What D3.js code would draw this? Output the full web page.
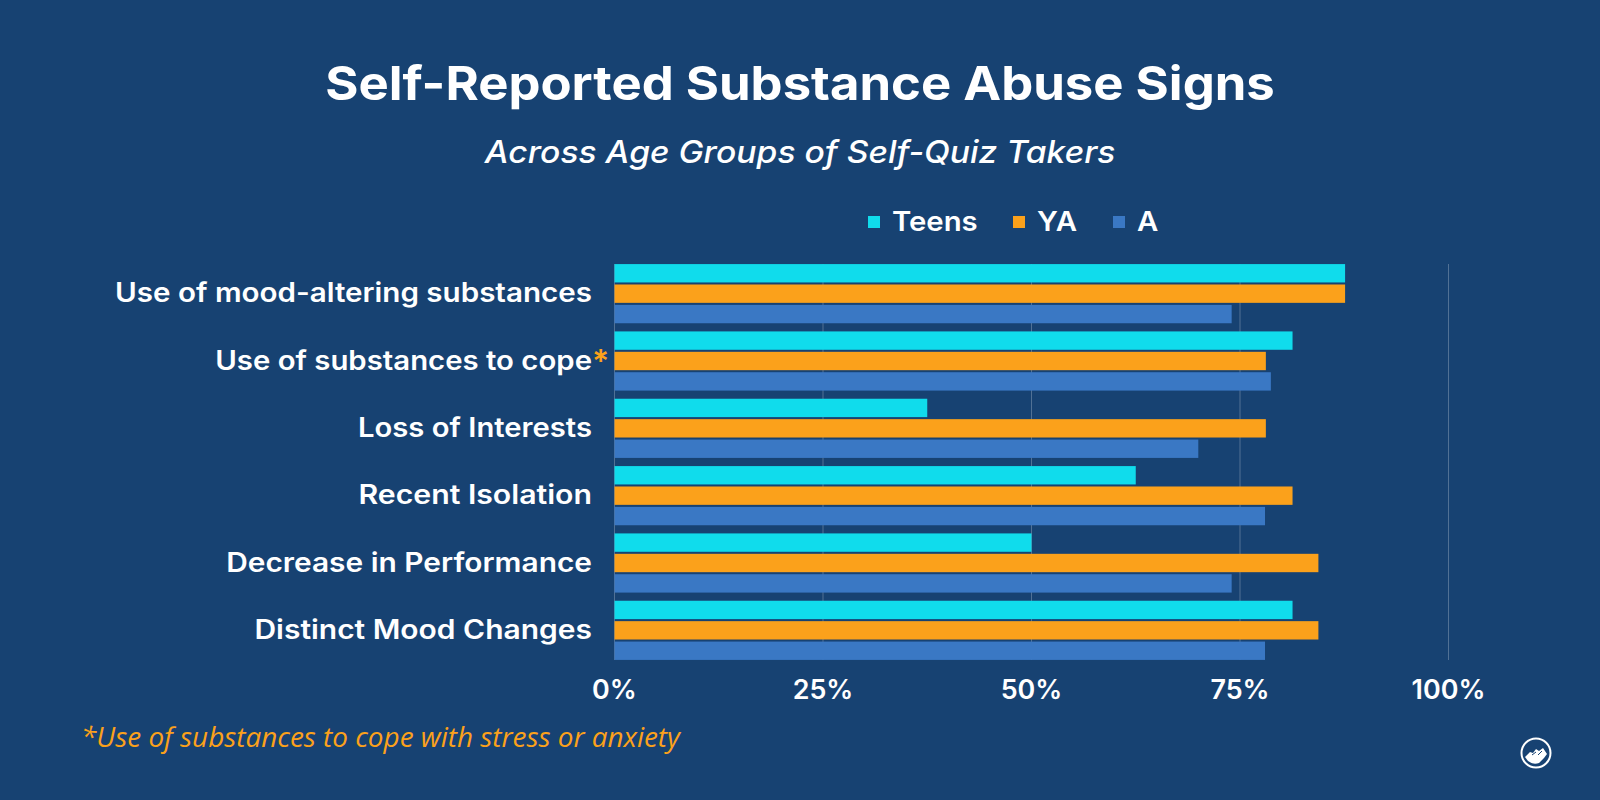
<!DOCTYPE html>
<html><head><meta charset="utf-8">
<script src="https://cdn.jsdelivr.net/npm/d3@7/dist/d3.min.js"></script>
<style>html,body{margin:0;padding:0;background:#174272}svg{display:block}</style>
</head><body><svg id="c" width="1600" height="800"></svg>
<script>
const categories=["Use of mood-altering substances","Use of substances to cope","Loss of Interests","Recent Isolation","Decrease in Performance","Distinct Mood Changes"];
const seriesNames=["Teens","YA","A"];
const teens=[87.6,81.3,37.5,62.5,50,81.3];
const ya=[87.6,78.1,78.1,81.3,84.4,84.4];
const adults=[74,78.7,70,78,74,78];
const tickValues=[0,25,50,75,100];
const colors=["#10dcec","#fba11b","#3a78c4"];
const title="Self-Reported Substance Abuse Signs";
const subtitle="Across Age Groups of Self-Quiz Takers";
const footnote="*Use of substances to cope with stress or anxiety";
const labelWidthFactors=[1.011,1,1,1.036,1.02,1.025];

const font="Inter, 'Open Sans', sans-serif";
const svg=d3.select("#c");
function stretch(sel,f){
  sel.each(function(d,i){
    const k=typeof f==="function"?f(d,i):f;
    this.setAttribute("textLength",this.getComputedTextLength()*k);
    this.setAttribute("lengthAdjust","spacingAndGlyphs");
  });
  return sel;
}
svg.append("rect").attr("width",1600).attr("height",800).attr("fill","#174272");
const x=d3.scaleLinear().domain([0,100]).range([614.5,1448.5]);
const y=d3.scaleBand().domain(categories).range([260,664]).paddingInner(0).paddingOuter(0);
const sub=d3.scaleBand().domain(seriesNames).range([0,y.bandwidth()]).paddingInner(0.1).paddingOuter(0.2);

stretch(svg.append("text").attr("x",800).attr("y",100).attr("text-anchor","middle").attr("fill","#fff")
 .attr("font-family",font).attr("font-weight",700).attr("font-size",47).text(title),1.081);
stretch(svg.append("text").attr("x",800).attr("y",162.5).attr("text-anchor","middle").attr("fill","#fff")
 .attr("font-family",font).attr("font-style","italic").attr("font-weight",500).attr("font-size",31).text(subtitle),1.085);

svg.append("g").selectAll("line").data(tickValues).join("line")
 .attr("x1",d=>x(d)).attr("x2",d=>x(d)).attr("y1",264).attr("y2",660)
 .attr("stroke","#fff").attr("stroke-opacity",0.25).attr("stroke-width",1);

const all=[teens,ya,adults];
seriesNames.forEach((s,i)=>{
  svg.append("g").selectAll("rect").data(all[i]).join("rect")
   .attr("x",x(0)).attr("y",(d,j)=>y(categories[j])+sub(s))
   .attr("width",d=>x(d)-x(0)).attr("height",sub.bandwidth()).attr("fill",colors[i]);
});

const labels=svg.append("g").selectAll("text").data(categories).join("text")
 .attr("x",592).attr("y",d=>y(d)+y.bandwidth()/2+8.5).attr("text-anchor","end").attr("fill","#fff")
 .attr("font-family",font).attr("font-weight",600).attr("font-size",26.5).text(d=>d);
labels.each(function(d,i){
  const target=this.getComputedTextLength();
  d3.select(this).attr("data-w",target);
});
const baseLen=(function(){
  const t=svg.append("text").attr("font-family",font).attr("font-weight",500).attr("font-size",26.5);
  const out=categories.map(c=>{t.text(c);return t.node().getComputedTextLength();});
  t.remove();return out;
})();
labels.each(function(d,i){
  this.setAttribute("textLength",baseLen[i]*1.115*labelWidthFactors[i]);
  this.setAttribute("lengthAdjust","spacingAndGlyphs");
  this.removeAttribute("data-w");
});
svg.append("text").attr("x",592).attr("y",y(categories[1])+y.bandwidth()/2+12).attr("fill",colors[1])
 .attr("font-family",font).attr("font-weight",600).attr("font-size",32).text("*");

stretch(svg.append("g").selectAll("text").data(tickValues).join("text")
 .attr("x",d=>x(d)).attr("y",699).attr("text-anchor","middle").attr("fill","#fff")
 .attr("font-family",font).attr("font-weight",600).attr("font-size",26.5).text(d=>d+"%"),1.015);

const legendX=[868,1013,1113];
seriesNames.forEach((s,i)=>{
  svg.append("rect").attr("x",legendX[i]).attr("y",216).attr("width",12).attr("height",12).attr("fill",colors[i]);
  stretch(svg.append("text").attr("x",legendX[i]+24).attr("y",231).attr("fill","#fff")
   .attr("font-family",font).attr("font-weight",600).attr("font-size",27.5).text(s),1.065);
});

svg.append("text").attr("x",81).attr("y",747).attr("fill",colors[1])
 .attr("font-family","'Open Sans', sans-serif").attr("font-style","italic").attr("font-size",27.9).text(footnote);

const logo=svg.append("g").attr("transform","translate(1536,753)");
logo.append("circle").attr("r",14.5).attr("fill","none").attr("stroke","#fff").attr("stroke-width",2);
logo.append("path").attr("fill","#fff").attr("d","M-11,4 L-6,-1 L-3,0 L0,-4 L3,-2 L7,-5 L11,1 L8,5 L3,10 Q-3,12 -8,8 Z");
logo.append("path").attr("fill","none").attr("stroke","#174272").attr("stroke-width",1).attr("d","M-4,2 L0,-1 M2,2 L6,-2");
</script></body></html>
